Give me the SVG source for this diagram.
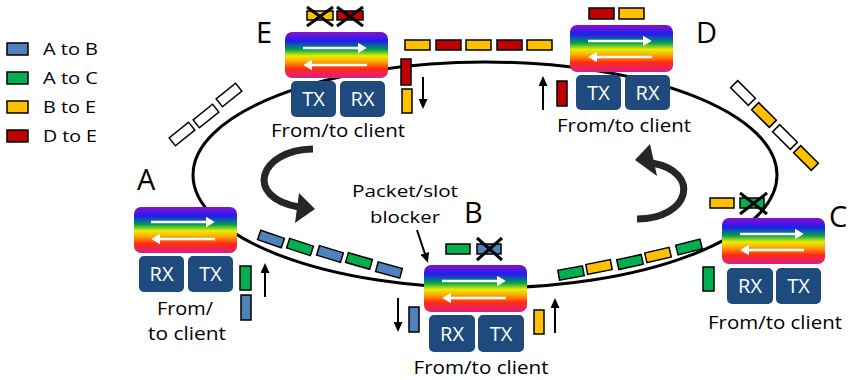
<svg xmlns="http://www.w3.org/2000/svg" width="851" height="380" viewBox="0 0 851 380">
<defs>
<linearGradient id="rainbow" x1="0" y1="0" x2="0" y2="1">
<stop offset="0" stop-color="#8A10C8"/>
<stop offset="0.2" stop-color="#1E1EF0"/>
<stop offset="0.38" stop-color="#00A050"/>
<stop offset="0.52" stop-color="#E6F000"/>
<stop offset="0.64" stop-color="#FFA800"/>
<stop offset="0.8" stop-color="#FF2A14"/>
<stop offset="1" stop-color="#DC1E8C"/>
</linearGradient>
<marker id="wa" viewBox="0 0 10 10" refX="7" refY="5" markerWidth="9" markerHeight="11" markerUnits="userSpaceOnUse" orient="auto" preserveAspectRatio="none"><path d="M0,0 L10,5 L0,10 z" fill="#fff"/></marker>
<marker id="ba" viewBox="0 0 10 10" refX="7" refY="5" markerWidth="10" markerHeight="9" markerUnits="userSpaceOnUse" orient="auto" preserveAspectRatio="none"><path d="M0,0 L10,5 L0,10 z" fill="#000"/></marker>
</defs>
<style>
.rb{fill:url(#rainbow)}
.cl{fill:#1F4A7E}
.t{font-family:"Open Sans","Liberation Sans",sans-serif;fill:#000}
.big{font-family:"Open Sans","Liberation Sans",sans-serif;font-size:29px;fill:#000}
.fc{font-size:18px;text-anchor:middle}
.lg{font-size:17px}
.tw{font-family:"Open Sans","Liberation Sans",sans-serif;font-size:20px;fill:#fff;text-anchor:middle}
.s{stroke:#000;stroke-width:1.5}
.b{fill:#4F81BD}.g{fill:#00B050}.y{fill:#FFC000}.r{fill:#C00000}.w{fill:#fff}
.x{stroke:#000;stroke-width:3;fill:none}
.wl{stroke:#fff;stroke-width:2.5;marker-end:url(#wa)}
.bl{stroke:#000;stroke-width:2;marker-end:url(#ba)}
.ca{stroke:#262626;stroke-width:7;fill:none}
</style>

<g id="legend">
<rect class="s b" x="7" y="43" width="21" height="12"/>
<text class="t lg" x="43" y="55" textLength="55" lengthAdjust="spacingAndGlyphs">A to B</text>
<rect class="s g" x="7" y="72" width="21" height="12"/>
<text class="t lg" x="43" y="84" textLength="55" lengthAdjust="spacingAndGlyphs">A to C</text>
<rect class="s y" x="7" y="101" width="21" height="12"/>
<text class="t lg" x="43" y="113" textLength="53" lengthAdjust="spacingAndGlyphs">B to E</text>
<rect class="s r" x="7" y="130" width="21" height="12"/>
<text class="t lg" x="43" y="142" textLength="54" lengthAdjust="spacingAndGlyphs">D to E</text>
</g>

<g id="connectors">
<ellipse cx="485" cy="175" rx="292" ry="113" fill="none" stroke="#000" stroke-width="3"/>
<path class="ca" d="M313,149 C258,150 244,198 299,207"/>
<polygon points="299,193 315,209 295,223" fill="#262626"/>
<path class="ca" d="M637,219 C690,219 702,172 652,163"/>
<polygon points="635,160 650,144 657,176" fill="#262626"/>
<line class="bl" x1="423" y1="77" x2="423" y2="106"/>
<line class="bl" x1="543" y1="110" x2="543" y2="79"/>
<line class="bl" x1="265" y1="297" x2="265" y2="266"/>
<line class="bl" x1="398" y1="298" x2="398" y2="329"/>
<line class="bl" x1="555" y1="333" x2="555" y2="301"/>
<line class="bl" x1="417" y1="230" x2="427" y2="260"/>
</g>

<g id="slots">
<rect class="s y" x="405" y="40" width="25" height="10"/>
<rect class="s r" x="436" y="40" width="25" height="10"/>
<rect class="s y" x="466" y="40" width="25" height="10"/>
<rect class="s r" x="497" y="40" width="25" height="10"/>
<rect class="s y" x="527" y="40" width="25" height="10"/>
<rect class="s y" x="307" y="11" width="26" height="9"/>
<rect class="s r" x="337" y="11" width="26" height="9"/>
<path class="x" d="M307,7 L333,26 M307,26 L333,7 M337,7 L363,26 M337,26 L363,7"/>
<rect class="s r" x="589" y="8" width="25" height="11"/>
<rect class="s y" x="619" y="8" width="25" height="11"/>
<rect class="s r" x="401" y="59" width="10" height="26"/>
<rect class="s y" x="402" y="89" width="10" height="24"/>
<rect class="s r" x="557" y="81" width="10" height="25"/>
<rect class="s g" x="240" y="266" width="11" height="24"/>
<rect class="s b" x="241" y="295" width="10" height="25"/>
<rect class="s b" x="409" y="307" width="10" height="25"/>
<rect class="s y" x="534" y="310" width="10" height="24"/>
<rect class="s g" x="703" y="267" width="11" height="24"/>
<rect class="s g" x="446" y="244" width="24" height="10"/>
<rect class="s b" x="477" y="244" width="24" height="10"/>
<path class="x" d="M477,238 L502,260 M477,260 L502,238"/>
<rect class="s y" x="710" y="198" width="24" height="10"/>
<rect class="s g" x="740" y="198" width="24" height="10"/>
<path class="x" d="M740,193 L767,214 M740,214 L767,193"/>
<rect class="s b" x="-12.5" y="-5" width="25" height="10" transform="translate(271,239) rotate(19)"/>
<rect class="s g" x="-12.5" y="-5" width="25" height="10" transform="translate(300,247) rotate(18)"/>
<rect class="s b" x="-12.5" y="-5" width="25" height="10" transform="translate(330,254) rotate(17)"/>
<rect class="s g" x="-12.5" y="-5" width="25" height="10" transform="translate(359,261) rotate(16)"/>
<rect class="s b" x="-12.5" y="-5" width="25" height="10" transform="translate(389,270) rotate(15)"/>
<rect class="s g" x="-12.5" y="-5" width="25" height="10" transform="translate(571,273) rotate(-10)"/>
<rect class="s y" x="-12.5" y="-5" width="25" height="10" transform="translate(599,267) rotate(-11)"/>
<rect class="s g" x="-12.5" y="-5" width="25" height="10" transform="translate(630,262) rotate(-12)"/>
<rect class="s y" x="-12.5" y="-5" width="25" height="10" transform="translate(658,255) rotate(-13)"/>
<rect class="s g" x="-12.5" y="-5" width="25" height="10" transform="translate(689,247) rotate(-14)"/>
<rect class="s w" x="-12.5" y="-5" width="25" height="10" transform="translate(182,134) rotate(-39)"/>
<rect class="s w" x="-12.5" y="-5" width="25" height="10" transform="translate(206,116) rotate(-39)"/>
<rect class="s w" x="-12.5" y="-5" width="25" height="10" transform="translate(229,95) rotate(-39)"/>
<rect class="s w" x="-12.5" y="-5" width="25" height="10" transform="translate(743,93) rotate(45)"/>
<rect class="s y" x="-12.5" y="-5" width="25" height="10" transform="translate(764,115) rotate(45)"/>
<rect class="s w" x="-12.5" y="-5" width="25" height="10" transform="translate(785,137) rotate(45)"/>
<rect class="s y" x="-12.5" y="-5" width="25" height="10" transform="translate(806,158) rotate(45)"/>
</g>

<g id="label-blocker">
<text class="t" x="405" y="197" font-size="17" text-anchor="middle" textLength="106" lengthAdjust="spacingAndGlyphs">Packet/slot</text>
<text class="t" x="405" y="223" font-size="17" text-anchor="middle" textLength="70" lengthAdjust="spacingAndGlyphs">blocker</text>
</g>

<g id="node-E">
<text class="big" x="256" y="43">E</text>
<rect class="rb" x="285" y="32" width="103" height="46" rx="7"/>
<line class="wl" x1="303" y1="48" x2="364" y2="48"/>
<line class="wl" x1="367" y1="65" x2="306" y2="65"/>
<rect class="cl" x="291" y="81" width="45" height="36" rx="5"/>
<rect class="cl" x="340" y="81" width="45" height="36" rx="5"/>
<text class="tw" x="313.5" y="106">TX</text>
<text class="tw" x="362.5" y="106">RX</text>
<text class="t fc" x="338" y="137" textLength="134" lengthAdjust="spacingAndGlyphs">From/to client</text>
</g>

<g id="node-D">
<text class="big" x="696" y="43">D</text>
<rect class="rb" x="570" y="25" width="103" height="47" rx="7"/>
<line class="wl" x1="588" y1="41" x2="649" y2="41"/>
<line class="wl" x1="652" y1="57" x2="591" y2="57"/>
<rect class="cl" x="576" y="75" width="45" height="35" rx="5"/>
<rect class="cl" x="625" y="75" width="45" height="35" rx="5"/>
<text class="tw" x="598.5" y="100">TX</text>
<text class="tw" x="647.5" y="100">RX</text>
<text class="t fc" x="624" y="132" textLength="134" lengthAdjust="spacingAndGlyphs">From/to client</text>
</g>

<g id="node-A">
<text class="big" x="137" y="190">A</text>
<rect class="rb" x="134" y="207" width="103" height="46" rx="7"/>
<line class="wl" x1="151" y1="222" x2="212" y2="222"/>
<line class="wl" x1="215" y1="239" x2="154" y2="239"/>
<rect class="cl" x="139" y="256" width="45" height="36" rx="5"/>
<rect class="cl" x="188" y="256" width="45" height="36" rx="5"/>
<text class="tw" x="161.5" y="281">RX</text>
<text class="tw" x="210.5" y="281">TX</text>
<text class="t fc" x="185" y="315" textLength="56" lengthAdjust="spacingAndGlyphs">From/</text>
<text class="t fc" x="187" y="340" textLength="78" lengthAdjust="spacingAndGlyphs">to client</text>
</g>

<g id="node-B">
<text class="big" x="464" y="223">B</text>
<rect class="rb" x="424" y="265" width="103" height="47" rx="7"/>
<line class="wl" x1="442" y1="281" x2="503" y2="281"/>
<line class="wl" x1="506" y1="298" x2="445" y2="298"/>
<rect class="cl" x="429" y="315" width="46" height="37" rx="5"/>
<rect class="cl" x="478" y="315" width="46" height="37" rx="5"/>
<text class="tw" x="452" y="341">RX</text>
<text class="tw" x="501" y="341">TX</text>
<text class="t fc" x="481" y="374" textLength="135" lengthAdjust="spacingAndGlyphs">From/to client</text>
</g>

<g id="node-C">
<text class="big" x="829" y="227">C</text>
<rect class="rb" x="722" y="218" width="103" height="46" rx="7"/>
<line class="wl" x1="740" y1="234" x2="801" y2="234"/>
<line class="wl" x1="804" y1="250" x2="743" y2="250"/>
<rect class="cl" x="727" y="268" width="46" height="36" rx="5"/>
<rect class="cl" x="776" y="268" width="45" height="36" rx="5"/>
<text class="tw" x="750" y="293">RX</text>
<text class="tw" x="798.5" y="293">TX</text>
<text class="t fc" x="775" y="329" textLength="134" lengthAdjust="spacingAndGlyphs">From/to client</text>
</g>
</svg>
